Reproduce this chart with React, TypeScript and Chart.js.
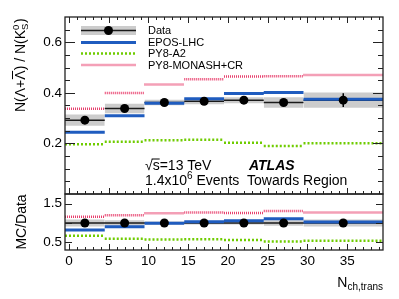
import React, { useEffect, useRef } from "react";
import { Chart, registerables } from "chart.js";
Chart.register(...registerables);

// ---- data ----
const binEdges = [-0.5, 4.5, 9.5, 14.5, 19.5, 24.5, 29.5, 39.5];
const dataX = [2, 7, 12, 17, 22, 27, 34.5];
const dataY = [0.292, 0.338, 0.362, 0.367, 0.371, 0.362, 0.371];
const dataStat = [0.004, 0.004, 0.004, 0.004, 0.005, 0.006, 0.027];
const dataSyst = [0.022, 0.019, 0.011, 0.012, 0.012, 0.021, 0.03];
const eposY = [0.244, 0.309, 0.359, 0.377, 0.397, 0.401, 0.375];
const a2Y = [0.197, 0.207, 0.213, 0.215, 0.203, 0.19, 0.201];
const monashY = [0.337, 0.399, 0.433, 0.454, 0.465, 0.466, 0.471];

const ratioData = [1, 1, 1, 1, 1, 1, 1];
const ratioBand = [0.09, 0.07, 0.04, 0.04, 0.04, 0.07, 0.09];
const ratioStat = [0.014, 0.012, 0.011, 0.011, 0.013, 0.017, 0.07];
const ratioEpos = [0.82, 0.905, 0.99, 1.03, 1.06, 1.11, 1.025];
const ratioA2 = [0.667, 0.59, 0.57, 0.58, 0.556, 0.52, 0.54];
const ratioMonash = [1.16, 1.2, 1.25, 1.27, 1.26, 1.31, 1.27];

const xTicks = [0, 5, 10, 15, 20, 25, 30, 35];
const yTicks = [0.2, 0.4, 0.6];
const rTicks = [0.5, 1, 1.5];

const legendLabels = ["Data", "EPOS-LHC", "PY8-A2", "PY8-MONASH+CR"];

const FONT = "'Liberation Sans', Arial, Helvetica, sans-serif";
const C_BAND = "#cccccc";
const C_DATA = "#1a1a1a";
const C_EPOS = "#1f5cbf";
const C_A2 = "#6fcc00";
const C_MON = "#e8406e";

type P = { x: number; y: number | null };

function segments(vals: number[]): P[] {
  const pts: P[] = [];
  vals.forEach((v, i) => {
    pts.push({ x: binEdges[i], y: v }, { x: binEdges[i + 1], y: v }, { x: binEdges[i + 1], y: null });
  });
  return pts;
}
function shifted(vals: number[], errs: number[], sign: number) {
  return vals.map((v, i) => v + sign * errs[i]);
}
function errorBars(xs: number[], ys: number[], es: number[]): P[] {
  const pts: P[] = [];
  xs.forEach((x, i) => {
    pts.push({ x, y: ys[i] - es[i] }, { x, y: ys[i] + es[i] }, { x, y: null });
  });
  return pts;
}
function points(xs: number[], ys: number[]): P[] {
  return xs.map((x, i) => ({ x, y: ys[i] }));
}

function lineDs(data: P[], axis: string, color: string, width: number, order: number, dash: number[] = []) {
  return {
    data,
    yAxisID: axis,
    borderColor: color,
    borderWidth: width,
    borderDash: dash,
    borderCapStyle: "butt",
    pointRadius: 0,
    fill: false,
    spanGaps: false,
    tension: 0,
    order,
  };
}

function bandDs(vals: number[], errs: number[], axis: string) {
  return [
    {
      data: segments(shifted(vals, errs, 1)),
      yAxisID: axis,
      borderColor: "rgba(0,0,0,0)",
      borderWidth: 1,
      pointRadius: 0,
      fill: false,
      spanGaps: false,
      order: 20,
    },
    {
      data: segments(shifted(vals, errs, -1)),
      yAxisID: axis,
      borderColor: "rgba(0,0,0,0)",
      borderWidth: 1,
      backgroundColor: C_BAND,
      pointRadius: 0,
      fill: "-1",
      spanGaps: false,
      order: 19,
    },
  ];
}

function markerDs(data: P[], axis: string) {
  return {
    data,
    yAxisID: axis,
    showLine: false,
    pointRadius: 4.5,
    pointBackgroundColor: "#000",
    pointBorderColor: "#000",
    pointBorderWidth: 0,
    order: 1,
  };
}

const decor = {
  id: "decor",
  afterDraw(chart: any) {
    const { ctx, chartArea: ca, scales } = chart;
    const xs = scales.x, ys = scales.y, rs = scales.yRatio;
    ctx.save();
    // frames
    ctx.strokeStyle = "#222";
    ctx.lineWidth = 1.3;
    ctx.strokeRect(ca.left, ys.top, ca.right - ca.left, ys.bottom - ys.top);
    ctx.strokeRect(ca.left, rs.top, ca.right - ca.left, rs.bottom - rs.top);
    // ticks
    ctx.lineWidth = 1;
    ctx.beginPath();
    for (let v = 0; v <= 39; v++) {
      const px = Math.round(xs.getPixelForValue(v)) + 0.5;
      const len = v % 5 === 0 ? 6 : 3;
      ctx.moveTo(px, ys.top); ctx.lineTo(px, ys.top + len);
      ctx.moveTo(px, ys.bottom); ctx.lineTo(px, ys.bottom - len);
      ctx.moveTo(px, rs.bottom); ctx.lineTo(px, rs.bottom - len);
    }
    for (let k = 1; k <= 13; k++) {
      const v = k * 0.05;
      const py = Math.round(ys.getPixelForValue(v)) + 0.5;
      const len = k % 4 === 0 ? 10 : 5;
      ctx.moveTo(ca.left, py); ctx.lineTo(ca.left + len, py);
      ctx.moveTo(ca.right, py); ctx.lineTo(ca.right - len, py);
    }
    for (const v of rTicks) {
      const py = Math.round(rs.getPixelForValue(v)) + 0.5;
      ctx.moveTo(ca.left, py); ctx.lineTo(ca.left + 7, py);
      ctx.moveTo(ca.right, py); ctx.lineTo(ca.right - 7, py);
    }
    ctx.stroke();

    // legend
    const lx0 = 81, lx1 = 136, tx = 148;
    const rows = [30.5, 42.5, 53.5, 65];
    ctx.fillStyle = C_BAND;
    ctx.fillRect(lx0, rows[0] - 4.5, lx1 - lx0, 9);
    ctx.strokeStyle = C_DATA; ctx.lineWidth = 1.5; ctx.setLineDash([]);
    ctx.beginPath(); ctx.moveTo(lx0, rows[0]); ctx.lineTo(lx1, rows[0]); ctx.stroke();
    ctx.fillStyle = "#000";
    ctx.beginPath(); ctx.arc((lx0 + lx1) / 2, rows[0], 4.5, 0, Math.PI * 2); ctx.fill();
    ctx.strokeStyle = C_EPOS; ctx.lineWidth = 3;
    ctx.beginPath(); ctx.moveTo(lx0, rows[1]); ctx.lineTo(lx1, rows[1]); ctx.stroke();
    ctx.strokeStyle = C_A2; ctx.lineWidth = 2.5; ctx.setLineDash([2, 2]);
    ctx.beginPath(); ctx.moveTo(lx0, rows[2]); ctx.lineTo(lx1, rows[2]); ctx.stroke();
    ctx.strokeStyle = C_MON; ctx.lineWidth = 2.5; ctx.setLineDash([1, 1]);
    ctx.beginPath(); ctx.moveTo(lx0 + 0.5, rows[3]); ctx.lineTo(lx1, rows[3]); ctx.stroke();
    ctx.setLineDash([]);
    ctx.fillStyle = "#000";
    ctx.font = `11px ${FONT}`;
    ctx.textBaseline = "middle";
    ctx.textAlign = "left";
    legendLabels.forEach((t, i) => ctx.fillText(t, tx, rows[i] + 0.5));

    // annotations
    ctx.textBaseline = "alphabetic";
    ctx.font = `14px ${FONT}`;
    const ax = 145, b1 = 169.5, b2 = 185;
    const sq = "\u221A";
    ctx.fillText(sq, ax, b1);
    const wsq = ctx.measureText(sq).width;
    ctx.fillText("s=13 TeV", ax + wsq, b1);
    const ws = ctx.measureText("s").width;
    ctx.lineWidth = 1; ctx.strokeStyle = "#000";
    ctx.beginPath(); ctx.moveTo(ax + wsq - 1, b1 - 10.5); ctx.lineTo(ax + wsq + ws, b1 - 10.5); ctx.stroke();
    ctx.font = `italic bold 14px ${FONT}`;
    ctx.fillText("ATLAS", 249, b1);
    ctx.font = `14px ${FONT}`;
    ctx.fillText("1.4x10", ax, b2);
    let w = ctx.measureText("1.4x10").width;
    ctx.font = `10px ${FONT}`;
    ctx.fillText("6", ax + w, b2 - 6);
    w += ctx.measureText("6").width;
    ctx.font = `14px ${FONT}`;
    ctx.fillText(" Events", ax + w, b2);
    ctx.fillText("Towards Region", 247, b2);

    // x title
    ctx.font = `10px ${FONT}`;
    const sub = "ch,trans";
    const wsub = ctx.measureText(sub).width;
    ctx.font = `14px ${FONT}`;
    const wN = ctx.measureText("N").width;
    const xr = ca.right;
    ctx.fillText("N", xr - wsub - wN, 287);
    ctx.font = `10px ${FONT}`;
    ctx.fillText(sub, xr - wsub, 290);

    // y title main (rotated)
    ctx.save();
    ctx.translate(25, 112);
    ctx.rotate(-Math.PI / 2);
    let cx = 0;
    const put = (t: string, size: number, dy = 0) => {
      ctx.font = `${size}px ${FONT}`;
      ctx.fillText(t, cx, dy);
      const ww = ctx.measureText(t).width;
      cx += ww;
      return ww;
    };
    put("N(\u039B+", 14);
    const lamStart = cx;
    const wl = put("\u039B", 14);
    ctx.lineWidth = 1;
    ctx.beginPath(); ctx.moveTo(lamStart + 0.5, -12.5); ctx.lineTo(lamStart + wl - 0.5, -12.5); ctx.stroke();
    put(") / N(K", 14);
    const cs = cx;
    put("0", 9.5, -6.5);
    const c1 = cx;
    cx = cs;
    put("S", 9.5, 3);
    cx = Math.max(cx, c1) + 0.5;
    put(")", 14);
    ctx.restore();

    // y title ratio
    ctx.save();
    ctx.translate(26, (rs.top + rs.bottom) / 2);
    ctx.rotate(-Math.PI / 2);
    ctx.font = `14px ${FONT}`;
    ctx.textAlign = "center";
    ctx.fillText("MC/Data", 0, 0);
    ctx.restore();

    ctx.restore();
  },
};

export default function App() {
  const ref = useRef<HTMLCanvasElement>(null);
  useEffect(() => {
    const R = "yRatio";
    const datasets: any[] = [
      // main panel
      ...bandDs(dataY, dataSyst, "y"),
      lineDs(segments(dataY), "y", C_DATA, 1.5, 10),
      lineDs(segments(monashY), "y", C_MON, 2.5, 5, [1, 1]),
      lineDs(segments(a2Y), "y", C_A2, 2.5, 5, [2, 2]),
      lineDs(segments(eposY), "y", C_EPOS, 3, 4),
      lineDs(errorBars(dataX, dataY, dataStat), "y", "#000", 1.5, 2),
      markerDs(points(dataX, dataY), "y"),
      // ratio panel
      ...bandDs(ratioData, ratioBand, R),
      lineDs(segments(ratioData), R, C_DATA, 1.5, 10),
      lineDs(segments(ratioMonash), R, C_MON, 2.5, 5, [1, 1]),
      lineDs(segments(ratioA2), R, C_A2, 2.5, 5, [2, 2]),
      lineDs(segments(ratioEpos), R, C_EPOS, 3, 4),
      lineDs(errorBars(dataX, ratioData, ratioStat), R, "#000", 1.5, 2),
      markerDs(points(dataX, ratioData), R),
    ];
    const tickFont = { family: FONT, size: 13.5 };
    const chart = new Chart(ref.current as HTMLCanvasElement, {
      type: "line",
      data: { datasets },
      options: {
        responsive: false,
        animation: false,
        devicePixelRatio: 1,
        events: [],
        layout: { padding: { top: 17, right: 16, left: 0, bottom: 0 } },
        plugins: { legend: { display: false }, tooltip: { enabled: false } },
        scales: {
          x: {
            type: "linear",
            min: -0.5,
            max: 39.5,
            grid: { display: false, drawTicks: false },
            border: { display: false },
            afterBuildTicks: (s: any) => { s.ticks = xTicks.map((v) => ({ value: v })); },
            afterFit: (s: any) => { s.height = 49; },
            ticks: { font: tickFont, color: "#000", padding: 3, maxRotation: 0, autoSkip: false, callback: (v: any) => String(v) },
          },
          y: {
            type: "linear",
            axis: "y",
            position: "left",
            stack: "v",
            stackWeight: 177,
            weight: 1,
            min: 0,
            max: 0.7,
            grid: { display: false, drawTicks: false },
            border: { display: false },
            afterBuildTicks: (s: any) => { s.ticks = yTicks.map((v) => ({ value: v })); },
            afterFit: (s: any) => { s.width = 65; },
            ticks: { font: tickFont, color: "#000", padding: 3, callback: (v: any) => String(v) },
          },
          yRatio: {
            type: "linear",
            axis: "y",
            position: "left",
            stack: "v",
            stackWeight: 56,
            weight: 0,
            min: 0.3,
            max: 1.75,
            grid: { display: false, drawTicks: false },
            border: { display: false },
            afterBuildTicks: (s: any) => { s.ticks = rTicks.map((v) => ({ value: v })); },
            afterFit: (s: any) => { s.width = 65; },
            ticks: { font: tickFont, color: "#000", padding: 3, callback: (v: any) => String(v) },
          },
        },
      } as any,
      plugins: [decor],
    });
    return () => chart.destroy();
  }, []);
  return (
    <div style={{ position: "fixed", left: 0, top: 0, width: 399, height: 299, background: "#fff" }}>
      <canvas ref={ref} width={399} height={299} style={{ display: "block" }} />
    </div>
  );
}
